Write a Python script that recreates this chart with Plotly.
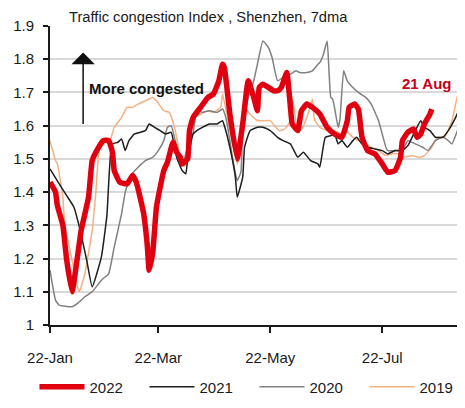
import pandas as pd
import plotly.graph_objects as go

# days after 22-Jan and the 7dma congestion index
days_2022 = [0, 3, 4, 7, 9, 12, 17, 21, 23, 26, 29, 32, 34, 35, 38, 42, 45, 47, 51, 53,
             54, 56, 58, 62, 64, 67, 69, 71, 72, 75, 76, 78, 82, 86, 89, 92, 94, 95, 98,
             102, 105, 108, 111, 113, 114, 116, 119, 122, 124, 126, 129, 131, 132, 135,
             137, 140, 143, 147, 151, 155, 159, 162, 163, 166, 168, 170, 173, 177, 181,
             184, 188, 191, 192, 195, 198, 200, 202, 204, 207, 208]
idx_2022 = [1.43, 1.40, 1.36, 1.30, 1.20, 1.10, 1.285, 1.385, 1.495, 1.53, 1.555, 1.555,
            1.52, 1.465, 1.43, 1.425, 1.45, 1.43, 1.336, 1.24, 1.165, 1.22, 1.355, 1.465,
            1.49, 1.55, 1.52, 1.505, 1.485, 1.50, 1.585, 1.625, 1.655, 1.685, 1.695,
            1.735, 1.785, 1.775, 1.635, 1.50, 1.605, 1.735, 1.685, 1.645, 1.715, 1.725,
            1.715, 1.705, 1.705, 1.715, 1.76, 1.655, 1.605, 1.585, 1.645, 1.665, 1.655,
            1.635, 1.595, 1.575, 1.565, 1.615, 1.655, 1.665, 1.65, 1.565, 1.525, 1.515,
            1.485, 1.46, 1.465, 1.505, 1.555, 1.58, 1.59, 1.565, 1.575, 1.605, 1.635, 1.65]

days_2021 = [0, 5, 9, 13, 16, 20, 23, 28, 31, 32, 33, 34, 37, 39, 41, 43, 46, 52, 54, 57,
             60, 63, 66, 69, 72, 74, 75, 78, 80, 83, 87, 91, 94, 95, 98, 101, 102, 105,
             106, 109, 113, 116, 120, 124, 127, 131, 135, 138, 142, 146, 147, 150, 153,
             155, 157, 159, 162, 165, 167, 170, 173, 177, 181, 184, 188, 192, 195, 199,
             202, 204, 207, 210, 214, 217, 221, 223]
idx_2021 = [1.47, 1.425, 1.39, 1.355, 1.295, 1.195, 1.115, 1.205, 1.33, 1.43, 1.515,
            1.545, 1.55, 1.56, 1.525, 1.555, 1.575, 1.585, 1.605, 1.595, 1.585, 1.575,
            1.58, 1.505, 1.465, 1.455, 1.50, 1.575, 1.585, 1.595, 1.605, 1.605, 1.615,
            1.60, 1.535, 1.445, 1.385, 1.445, 1.535, 1.585, 1.595, 1.595, 1.585, 1.565,
            1.555, 1.545, 1.505, 1.52, 1.495, 1.485, 1.475, 1.565, 1.57, 1.575, 1.545,
            1.555, 1.535, 1.555, 1.565, 1.545, 1.535, 1.53, 1.525, 1.515, 1.525, 1.525,
            1.54, 1.585, 1.615, 1.595, 1.585, 1.565, 1.565, 1.585, 1.625, 1.65]

days_2020 = [0, 3, 5, 12, 15, 19, 23, 28, 32, 35, 39, 41, 44, 48, 52, 56, 59, 62, 64, 66,
             69, 71, 72, 75, 78, 80, 83, 87, 91, 94, 96, 100, 102, 104, 105, 108, 111,
             113, 116, 119, 121, 124, 127, 131, 134, 136, 140, 143, 146, 147, 149, 151,
             152, 153, 154, 155, 157, 158, 160, 162, 165, 168, 172, 175, 179, 181, 183,
             184, 188, 192, 195, 199, 203, 206, 210, 214, 217, 219, 222, 223]
idx_2020 = [1.165, 1.075, 1.06, 1.055, 1.065, 1.085, 1.10, 1.135, 1.155, 1.235, 1.335,
            1.40, 1.45, 1.475, 1.495, 1.505, 1.525, 1.555, 1.595, 1.60, 1.535, 1.485,
            1.48, 1.535, 1.58, 1.645, 1.64, 1.645, 1.64, 1.65, 1.62, 1.485, 1.435, 1.46,
            1.585, 1.685, 1.735, 1.785, 1.855, 1.835, 1.805, 1.735, 1.745, 1.755, 1.765,
            1.76, 1.76, 1.765, 1.785, 1.79, 1.815, 1.855, 1.765, 1.685, 1.68, 1.655,
            1.595, 1.62, 1.765, 1.735, 1.715, 1.70, 1.685, 1.665, 1.615, 1.575, 1.535,
            1.525, 1.525, 1.525, 1.555, 1.545, 1.535, 1.525, 1.555, 1.565, 1.555, 1.545,
            1.585, 1.595]

days_2019 = [0, 3, 4, 7, 8, 12, 15, 16, 19, 23, 25, 27, 31, 33, 35, 39, 42, 45, 48, 52,
             56, 58, 62, 65, 68, 70, 71, 74, 75, 79, 82, 86, 89, 93, 94, 96, 100, 102,
             105, 106, 109, 113, 116, 120, 123, 125, 128, 131, 132, 135, 137, 140, 143,
             144, 147, 151, 155, 159, 162, 165, 168, 172, 175, 179, 183, 186, 190, 193,
             197, 201, 204, 208, 211, 215, 219, 222, 223]
idx_2019 = [1.555, 1.495, 1.485, 1.385, 1.305, 1.195, 1.115, 1.10, 1.155, 1.285, 1.40,
            1.53, 1.555, 1.56, 1.595, 1.625, 1.655, 1.655, 1.665, 1.675, 1.685, 1.675,
            1.645, 1.64, 1.59, 1.53, 1.48, 1.48, 1.535, 1.625, 1.635, 1.645, 1.64, 1.655,
            1.695, 1.645, 1.535, 1.485, 1.56, 1.655, 1.635, 1.615, 1.615, 1.615, 1.595,
            1.585, 1.59, 1.615, 1.685, 1.585, 1.59, 1.625, 1.68, 1.62, 1.595, 1.585,
            1.585, 1.575, 1.58, 1.565, 1.555, 1.545, 1.535, 1.525, 1.51, 1.515, 1.515,
            1.505, 1.51, 1.505, 1.51, 1.535, 1.565, 1.565, 1.615, 1.69, 1.705]

tick_dates = ["2022-01-22", "2022-03-22", "2022-05-22", "2022-07-22"]
tick_labels = ["22-Jan", "22-Mar", "22-May", "22-Jul"]

start = pd.Timestamp("2022-01-22")
FONT = "Liberation Sans, Arial, sans-serif"


def to_dates(days):
    return start + pd.to_timedelta(days, unit="D")


fig = go.Figure()

# draw older years first so 2022 sits on top
series = [
    ("2019", days_2019, idx_2019, "#f4b183", 1.5),
    ("2020", days_2020, idx_2020, "#808080", 1.5),
    ("2021", days_2021, idx_2021, "#1e1e1e", 1.5),
    ("2022", days_2022, idx_2022, "#e0000f", 5.5),
]
for name, d, v, col, w in series:
    fig.add_trace(go.Scatter(
        x=to_dates(d), y=v, name=name, mode="lines",
        line=dict(color=col, width=w, shape="spline", smoothing=0.4),
    ))

# the page body adds 8px around the figure, so the figure is 8px smaller
fig.update_layout(
    width=457, height=400,
    margin=dict(l=42, r=6, t=18, b=83, autoexpand=False),
    paper_bgcolor="white", plot_bgcolor="white",
    font=dict(family=FONT, size=15, color="#1a1a1a"),
    showlegend=True,
    legend=dict(orientation="h", x=-0.038, xanchor="left", y=-0.207, yanchor="middle",
                traceorder="reversed", itemwidth=45, font=dict(size=15),
                entrywidth=50, entrywidthmode="pixels"),
    xaxis=dict(
        type="date", automargin=False,
        range=[start, pd.Timestamp("2022-09-01 20:00")],
        tickvals=tick_dates, ticktext=tick_labels,
        showgrid=False, showline=True, linecolor="#1a1a1a", linewidth=2,
        ticks="outside", ticklen=6, tickwidth=2, tickcolor="#1a1a1a",
        ticklabelstandoff=12,
    ),
    yaxis=dict(
        automargin=False,
        range=[1, 1.9], tickvals=[1, 1.1, 1.2, 1.3, 1.4, 1.5, 1.6, 1.7, 1.8, 1.9],
        ticktext=["1", "1.1", "1.2", "1.3", "1.4", "1.5", "1.6", "1.7", "1.8", "1.9"],
        showgrid=True, gridcolor="#d9d9d9", gridwidth=2, zeroline=False,
        showline=True, linecolor="#1a1a1a", linewidth=2,
        ticks="outside", ticklen=5, tickwidth=2, tickcolor="#1a1a1a",
        ticklabelstandoff=6,
    ),
)

fig.add_annotation(text="Traffic congestion Index , Shenzhen, 7dma",
                   xref="paper", yref="paper", x=0.042, y=1.0, xanchor="left",
                   yanchor="bottom", yshift=-1, showarrow=False,
                   font=dict(size=14.7, color="#1a1a1a"))
fig.add_annotation(text="<b>More congested</b>", xref="paper", y=1.712,
                   x=0.09, xanchor="left", yanchor="middle", showarrow=False,
                   font=dict(size=15, color="#111111"))
# upward arrow from the 1.6 line
fig.add_annotation(text="", xref="paper", x=0.081, y=1.82, ax=0, ay=73,
                   showarrow=True, arrowhead=1, arrowsize=2.6, arrowwidth=1.5,
                   arrowcolor="#111111")
fig.add_annotation(text="<b>21 Aug</b>", x="2022-08-15", y=1.727, xanchor="center",
                   yanchor="middle", showarrow=False,
                   font=dict(size=15, color="#c8001a"))

fig.write_html("out.html")
